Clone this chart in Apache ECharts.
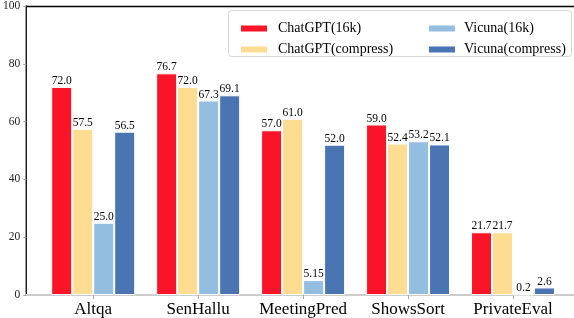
<!DOCTYPE html>
<html>
<head>
<meta charset="utf-8">
<script src="https://cdn.jsdelivr.net/npm/echarts@6/dist/echarts.min.js"></script>
<style>html,body{margin:0;padding:0;background:#fff}#c{width:574px;height:318px}</style>
</head>
<body>
<div id="c"></div>
<script>
var categories = ['Altqa', 'SenHallu', 'MeetingPred', 'ShowsSort', 'PrivateEval'];
var seriesNames = ['ChatGPT(16k)', 'ChatGPT(compress)', 'Vicuna(16k)', 'Vicuna(compress)'];
var chatgpt16k = [72.0, 76.7, 57.0, 59.0, 21.7];
var chatgptCompress = [57.5, 72.0, 61.0, 52.4, 21.7];
var vicuna16k = [25.0, 67.3, 5.15, 53.2, 0.2];
var vicunaCompress = [56.5, 69.1, 52.0, 52.1, 2.6];
var yTicks = [0, 20, 40, 60, 80, 100];
var colors = ['#FA1428', '#FEDD92', '#93BEE0', '#4B74B2'];

var FONT = "'Liberation Serif', 'Times New Roman', serif";
var allValues = [chatgpt16k, chatgptCompress, vicuna16k, vicunaCompress];
var catIdx = categories.map(function (c, i) { return i; });

function fmt(v) {
  return Number.isInteger(Math.round(v * 10 * 1000) / 1000) ? v.toFixed(1) : String(v);
}

var series = seriesNames.map(function (name, s) {
  return {
    name: name,
    type: 'bar',
    xAxisIndex: 0,
    barWidth: 21,
    barGap: '0%',
    itemStyle: { color: colors[s], borderColor: '#fff', borderWidth: 1 },
    label: {
      show: true, position: 'top', distance: 0,
      fontFamily: FONT, fontSize: 11.5, color: '#000',
      formatter: function (p) { return fmt(p.value[1]); }
    },
    data: allValues[s].map(function (v, i) { return [i, v]; })
  };
});

var chart = echarts.init(document.getElementById('c'), null, { renderer: 'canvas' });
chart.setOption({
  animation: false,
  grid: { left: 26, right: 0, top: 5, bottom: 23, containLabel: false },
  xAxis: [{
    type: 'value', position: 'bottom',
    min: -0.638, max: 4.581,
    splitLine: { show: false },
    axisLine: { show: true, onZero: false, lineStyle: { color: '#cccccc', width: 2 } },
    axisTick: { show: true, length: 4, lineStyle: { color: '#aaaaaa', width: 1 }, customValues: catIdx },
    axisLabel: {
      show: true, margin: 6, fontFamily: FONT, fontSize: 17, color: '#000',
      customValues: catIdx,
      formatter: function (v) { return categories[Math.round(v)]; }
    }
  }, {
    type: 'value', position: 'top',
    min: -0.638, max: 4.581,
    splitLine: { show: false },
    axisLine: { show: true, onZero: false, lineStyle: { color: '#000', width: 1.3 } },
    axisTick: { show: false },
    axisLabel: { show: false }
  }],
  yAxis: {
    type: 'value', min: 0, max: 100, interval: 20,
    splitLine: { show: false },
    axisLine: { show: true, onZero: false, lineStyle: { color: '#000', width: 1.3 } },
    axisTick: { show: true, length: 3, lineStyle: { color: '#aaaaaa' } },
    axisLabel: {
      margin: 6, fontFamily: FONT, fontSize: 11.5, color: '#222',
      formatter: function (v) { return yTicks.indexOf(v) >= 0 ? String(v) : ''; }
    }
  },
  graphic: [{
    type: 'rect', z: 0,
    shape: { x: 228.5, y: 10.5, width: 343, height: 46, r: 3 },
    style: { fill: 'rgba(255,255,255,0.85)', stroke: '#d6d6d6', lineWidth: 1 }
  }],
  legend: [{
    orient: 'vertical', left: 234, top: 16,
    data: [seriesNames[0], seriesNames[1]],
    itemWidth: 28, itemHeight: 8, itemGap: 6, icon: 'rect',
    textStyle: { fontFamily: FONT, fontSize: 14, color: '#000', lineHeight: 15, padding: [0, 0, 0, 5] },
    selectedMode: false
  }, {
    orient: 'vertical', left: 422, top: 16,
    data: [seriesNames[2], seriesNames[3]],
    itemWidth: 28, itemHeight: 8, itemGap: 6, icon: 'rect',
    textStyle: { fontFamily: FONT, fontSize: 14, color: '#000', lineHeight: 15, padding: [0, 0, 0, 3] },
    selectedMode: false
  }],
  series: series
});
</script>
</body>
</html>
